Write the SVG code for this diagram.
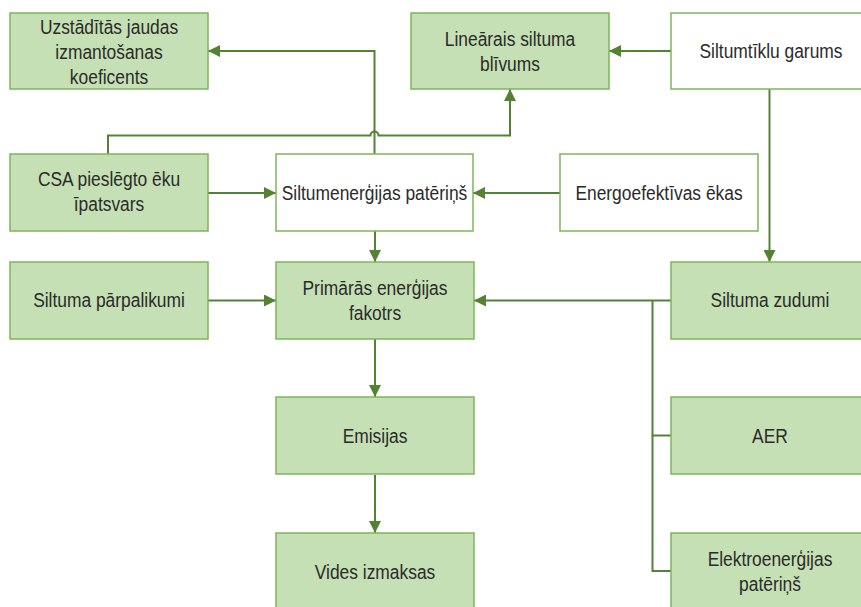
<svg xmlns="http://www.w3.org/2000/svg" width="861" height="607" viewBox="0 0 861 607">
<style>
.g{fill:#C5E0B4;stroke:#7DB55A;stroke-width:1.5}
.w{fill:#FFFFFF;stroke:#7DB55A;stroke-width:1.5}
.t{font-family:"Liberation Sans",Arial,sans-serif;font-size:20px;fill:#2B2B2B;text-anchor:middle}
.c{fill:none;stroke:#548235;stroke-width:2}
</style>
<defs>
<marker id="a" markerUnits="userSpaceOnUse" markerWidth="12" markerHeight="12" viewBox="0 0 12 12" refX="12" refY="6" orient="auto">
<path d="M0,0 L12,6 L0,12 z" fill="#548235"/>
</marker>
</defs>
<rect width="861" height="607" fill="#FFFFFF"/>
<g id="connectors">
<path class="c" d="M374.5,154 V51 H208" marker-end="url(#a)"/>
<path class="c" d="M108,154 V135.5 H370.5 A4,4 0 0 1 378.5,135.5 H510 V89" marker-end="url(#a)"/>
<path class="c" d="M671,51 H609" marker-end="url(#a)"/>
<path class="c" d="M208,193 H276" marker-end="url(#a)"/>
<path class="c" d="M560,193 H473" marker-end="url(#a)"/>
<path class="c" d="M769.5,89 V262" marker-end="url(#a)"/>
<path class="c" d="M375,231 V262" marker-end="url(#a)"/>
<path class="c" d="M208,300.5 H276" marker-end="url(#a)"/>
<path class="c" d="M671,300.5 H474" marker-end="url(#a)"/>
<path class="c" d="M671,435.5 H652.5 V300.5"/>
<path class="c" d="M671,571 H652.5 V435.5"/>
<path class="c" d="M375,339 V397" marker-end="url(#a)"/>
<path class="c" d="M375,475 V533" marker-end="url(#a)"/>
</g>
<g id="n-uzstaditas">
<rect class="g" x="10" y="13" width="198" height="76"/>
<text class="t" transform="translate(109,33.8) scale(0.87,1)">Uzstādītās jaudas</text>
<text class="t" transform="translate(109,58.8) scale(0.87,1)">izmantošanas</text>
<text class="t" transform="translate(109,83.8) scale(0.87,1)">koeficents</text>
</g>
<g id="n-linearais">
<rect class="g" x="411" y="13" width="198" height="76"/>
<text class="t" transform="translate(510,45.8) scale(0.87,1)">Lineārais siltuma</text>
<text class="t" transform="translate(510,70.8) scale(0.87,1)">blīvums</text>
</g>
<g id="n-siltumtiklu">
<rect class="w" x="671" y="13" width="198" height="76"/>
<text class="t" transform="translate(771,58.3) scale(0.87,1)">Siltumtīklu garums</text>
</g>
<g id="n-csa">
<rect class="g" x="10" y="154" width="198" height="77"/>
<text class="t" transform="translate(109,186.3) scale(0.87,1)">CSA pieslēgto ēku</text>
<text class="t" transform="translate(109,211.3) scale(0.87,1)">īpatsvars</text>
</g>
<g id="n-siltumenergijas">
<rect class="w" x="276" y="154" width="197" height="77"/>
<text class="t" transform="translate(374.5,199.8) scale(0.87,1)">Siltumenerģijas patēriņš</text>
</g>
<g id="n-energoefektivas">
<rect class="w" x="560" y="154" width="198" height="77"/>
<text class="t" transform="translate(659,199.8) scale(0.87,1)">Energoefektīvas ēkas</text>
</g>
<g id="n-parpalikumi">
<rect class="g" x="10" y="262" width="198" height="77"/>
<text class="t" transform="translate(109,307.3) scale(0.87,1)">Siltuma pārpalikumi</text>
</g>
<g id="n-primaras">
<rect class="g" x="276" y="262" width="198" height="77"/>
<text class="t" transform="translate(375,294.8) scale(0.87,1)">Primārās enerģijas</text>
<text class="t" transform="translate(375,319.8) scale(0.87,1)">fakotrs</text>
</g>
<g id="n-zudumi">
<rect class="g" x="671" y="262" width="198" height="77"/>
<text class="t" transform="translate(770,307.3) scale(0.87,1)">Siltuma zudumi</text>
</g>
<g id="n-aer">
<rect class="g" x="671" y="397" width="198" height="77"/>
<text class="t" transform="translate(770,442.8) scale(0.87,1)">AER</text>
</g>
<g id="n-emisijas">
<rect class="g" x="276" y="397" width="198" height="77"/>
<text class="t" transform="translate(375,442.8) scale(0.87,1)">Emisijas</text>
</g>
<g id="n-elektro">
<rect class="g" x="671" y="533" width="198" height="77"/>
<text class="t" transform="translate(770,566.3) scale(0.87,1)">Elektroenerģijas</text>
<text class="t" transform="translate(770,591.3) scale(0.87,1)">patēriņš</text>
</g>
<g id="n-vides">
<rect class="g" x="276" y="533" width="198" height="77"/>
<text class="t" transform="translate(375,578.8) scale(0.87,1)">Vides izmaksas</text>
</g>
</svg>
